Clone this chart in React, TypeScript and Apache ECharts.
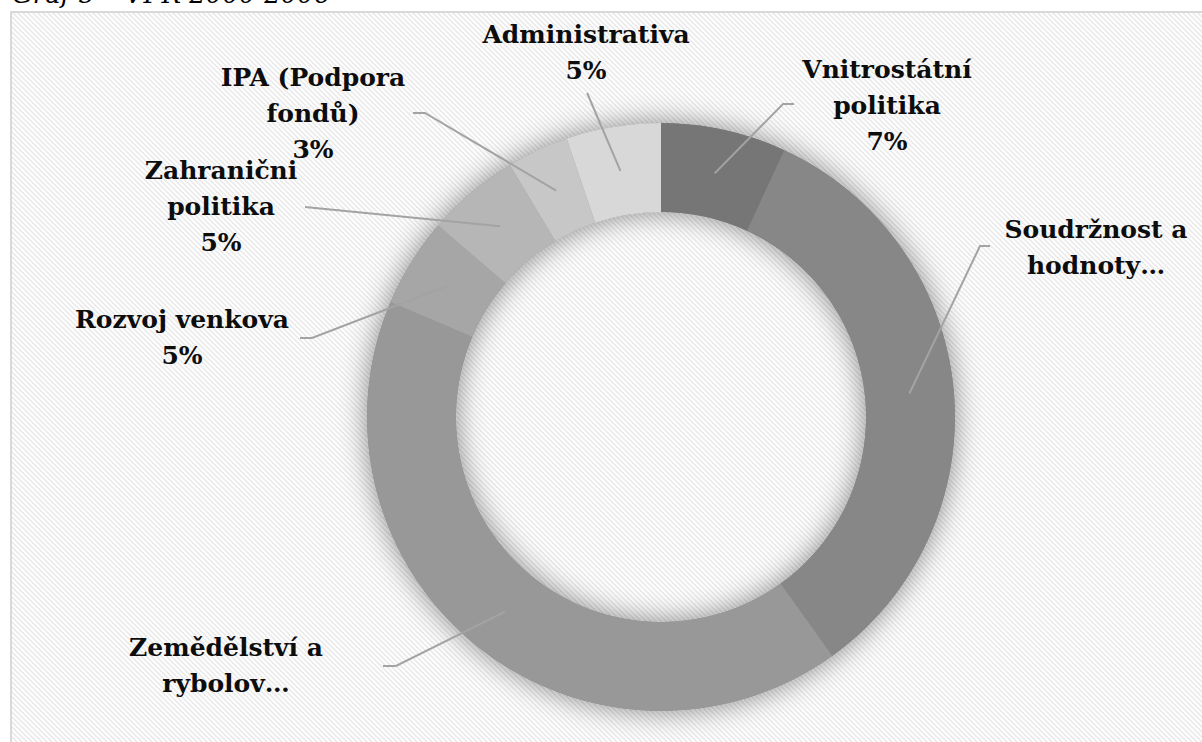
import React, { useEffect, useRef } from 'react';
import * as echarts from 'echarts';

// ---- data ----
const categories = [
  'Vnitrostátní politika',
  'Soudržnost a hodnoty',
  'Zemědělství a rybolov',
  'Rozvoj venkova',
  'Zahraniční politika',
  'IPA (Podpora fondů)',
  'Administrativa',
];
const shares = [6.9, 33.2, 41.3, 4.9, 5.1, 3.4, 5.2];
const labelTexts = [
  'Vnitrostátní\npolitika',
  'Soudržnost a\nhodnoty…',
  'Zemědělství a\nrybolov…',
  'Rozvoj venkova',
  'Zahranični\npolitika',
  'IPA (Podpora\nfondů)',
  'Administrativa',
];
const showPercent = [true, false, false, true, true, true, true];
const sliceColors = ['#767676', '#878787', '#989898', '#a6a6a6', '#b6b6b6', '#c7c7c7', '#d8d8d8'];
const titleText = 'Graf 5 – VFR 2000-2006';

// ---- layout (styling only) ----
const CX = 661;
const CY = 417;
const R_IN = 205;
const R_OUT = 294;
const START_ANGLE = 90;
const LABEL_POS: { x: number; y: number; elbow: number[]; end: number[] }[] = [
  { x: 887, y: 105, elbow: [783, 104], end: [794, 104] },
  { x: 1096, y: 247, elbow: [980, 246], end: [990, 246] },
  { x: 226, y: 665, elbow: [396, 666], end: [383, 666] },
  { x: 182, y: 337, elbow: [312, 338], end: [300, 338] },
  { x: 221, y: 206, elbow: [315, 208], end: [305, 207] },
  { x: 313, y: 113, elbow: [425, 113], end: [413, 113] },
  { x: 586, y: 52, elbow: [588, 95], end: [587, 93] },
];

// mid-angle / mid-ring anchor of a slice (clockwise from the start angle, as the pie lays it out)
function sliceAnchor(i: number): number[] {
  const total = shares.reduce((a, b) => a + b, 0);
  let before = 0;
  for (let k = 0; k < i; k++) before += shares[k];
  const midDeg = START_ANGLE - ((before + shares[i] / 2) / total) * 360;
  const rad = (midDeg * Math.PI) / 180;
  const rMid = (R_IN + R_OUT) / 2;
  return [CX + Math.cos(rad) * rMid, CY - Math.sin(rad) * rMid];
}

function makeStripePattern(): any {
  const c = document.createElement('canvas');
  const s = 5;
  c.width = s;
  c.height = s;
  const ctx = c.getContext('2d');
  if (!ctx) return '#fbfbfb';
  ctx.fillStyle = '#ffffff';
  ctx.fillRect(0, 0, s, s);
  ctx.strokeStyle = '#eaeaea';
  ctx.lineWidth = 1.6;
  for (const k of [-s, 0, s]) {
    ctx.beginPath();
    ctx.moveTo(k - 1, -1);
    ctx.lineTo(k + s + 1, s + 1);
    ctx.stroke();
  }
  return { image: c, repeat: 'repeat' };
}

const SERIF = 'DejaVu Serif';

export default function App() {
  const ref = useRef<HTMLDivElement>(null);
  useEffect(() => {
    if (!ref.current) return;
    const chart = echarts.init(ref.current, undefined, { renderer: 'svg' });
    const data = categories.map((name, i) => ({
      name,
      value: shares[i],
      itemStyle: { color: sliceColors[i] },
    }));
    const leaderLines = categories.map((_, i) => ({
      type: 'polyline',
      z: 50,
      silent: true,
      shape: { points: [sliceAnchor(i), LABEL_POS[i].elbow, LABEL_POS[i].end] },
      style: { stroke: '#a3a3a3', lineWidth: 2, fill: 'none' },
    }));
    chart.setOption({
      animation: false,
      graphic: [
        {
          type: 'rect',
          z: -10,
          shape: { x: 11, y: 12, width: 1210, height: 750 },
          style: { fill: makeStripePattern(), stroke: '#d9d9d9', lineWidth: 2 },
          silent: true,
        },
        {
          type: 'text',
          z: -5,
          x: 12,
          y: -6,
          style: {
            text: titleText,
            font: 'italic 26px DejaVu Serif',
            fill: '#000',
            verticalAlign: 'middle',
            align: 'left',
          },
          silent: true,
        },
        ...leaderLines,
      ],
      series: [
        {
          type: 'pie',
          z: 1,
          silent: true,
          center: [CX, CY],
          radius: [R_IN, R_OUT],
          label: { show: false },
          labelLine: { show: false },
          itemStyle: {
            color: '#909090',
            borderWidth: 0,
            shadowBlur: 28,
            shadowOffsetX: 0,
            shadowOffsetY: 0,
            shadowColor: 'rgba(0,0,0,0.45)',
          },
          data: [{ value: 1, name: 'shadow' }],
        },
        {
          type: 'pie',
          z: 2,
          silent: true,
          center: [CX, CY],
          radius: [R_IN, R_OUT],
          startAngle: START_ANGLE,
          clockwise: true,
          avoidLabelOverlap: false,
          minShowLabelAngle: 0,
          itemStyle: { borderWidth: 0 },
          label: {
            show: true,
            position: 'outside',
            fontFamily: SERIF,
            fontWeight: 'bold',
            fontSize: 25,
            lineHeight: 36,
            color: '#0d0d0d',
            align: 'center',
            formatter: (p: any) =>
              labelTexts[p.dataIndex] +
              (showPercent[p.dataIndex] ? '\n' + Math.round(p.percent) + '%' : ''),
          },
          labelLine: { show: false },
          labelLayout: (p: any) => {
            const L = LABEL_POS[p.dataIndex];
            return { x: L.x, y: L.y, align: 'center', verticalAlign: 'middle' };
          },
          data,
        },
      ],
    });
    return () => chart.dispose();
  }, []);
  return (
    <div
      ref={ref}
      style={{ position: 'absolute', left: 0, top: 0, width: 1202, height: 742, background: '#fff' }}
    />
  );
}
